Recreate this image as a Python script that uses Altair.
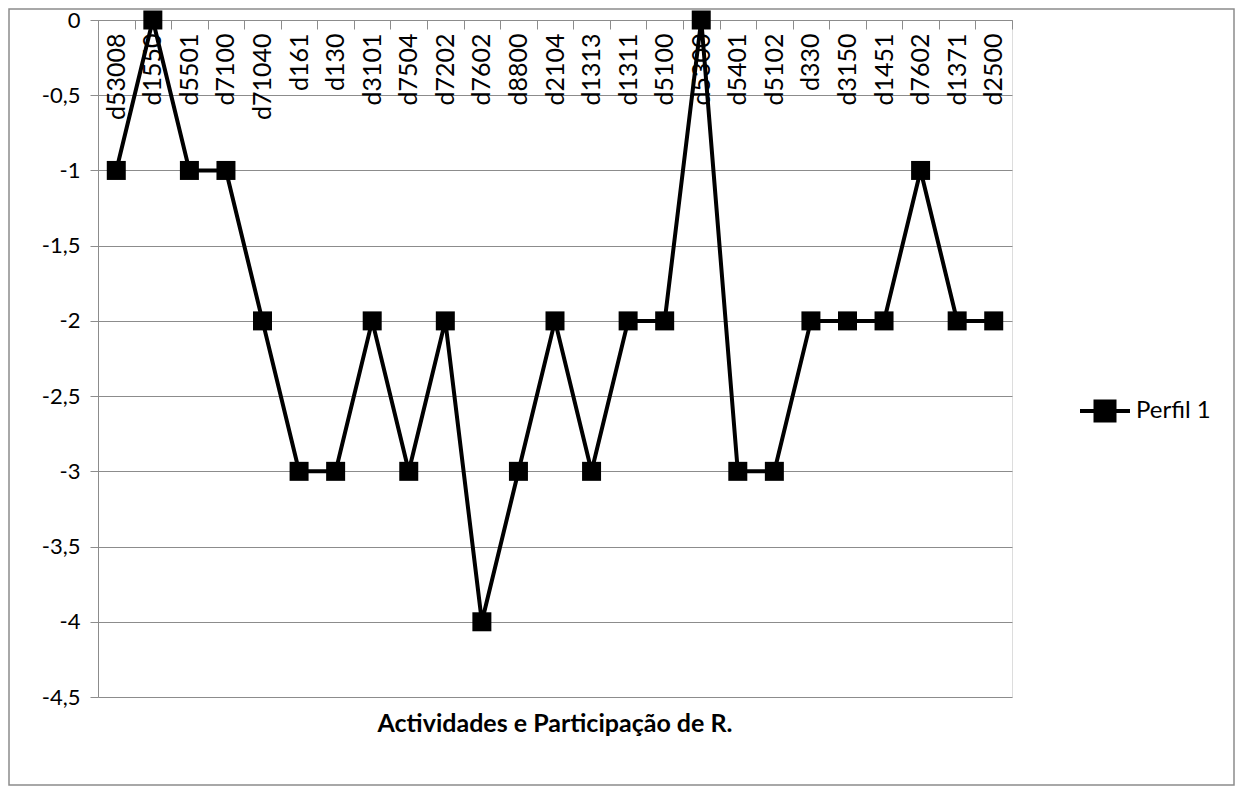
import altair as alt
import pandas as pd

labels = ["d53008", "d1550", "d5501", "d7100", "d71040", "d161", "d130", "d3101",
          "d7504", "d7202", "d7602", "d8800", "d2104", "d1313", "d1311", "d5100",
          "d5300", "d5401", "d5102", "d330", "d3150", "d1451", "d7602", "d1371", "d2500"]
values = [-1, 0, -1, -1, -2, -3, -3, -2, -3, -2, -4, -3, -2, -3, -2, -2,
          0, -3, -3, -2, -2, -2, -1, -2, -2]
y_ticks = [0, -0.5, -1, -1.5, -2, -2.5, -3, -3.5, -4, -4.5]
series_name = "Perfil 1"
x_title = "Actividades e Participação de R."

df = pd.DataFrame({
    "idx": list(range(len(labels))),
    "label": labels,
    "value": values,
    "series": [series_name] * len(labels),
})

W, H = 914, 677
TOP = 12
FONT = "Lato"
GREY = "#8c8c8c"

label_expr = "[" + ",".join("'%s'" % l for l in labels) + "][datum.value]"

x_enc = alt.X(
    "idx:O",
    scale=alt.Scale(paddingInner=0, paddingOuter=0),
    axis=alt.Axis(
        orient="bottom", offset=-H, labelAngle=-90, labelExpr=label_expr,
        tickBand="extent", title=None, domainColor=GREY, tickColor=GREY,
        tickSize=9, labelFontSize=25, labelPadding=4, labelOverlap=False,
        grid=False, labelColor="black", labelFont=FONT,
    ),
)
y_enc = alt.Y(
    "value:Q",
    scale=alt.Scale(domain=[-4.5, 0], nice=False, zero=False),
    axis=alt.Axis(
        values=y_ticks, labelExpr="replace(toString(datum.value), '.', ',')",
        grid=True, gridColor=GREY, gridOpacity=1, domainColor=GREY, tickColor=GREY,
        tickSize=8, labelFontSize=22, labelPadding=10, title=None,
        labelColor="black", labelFont=FONT,
    ),
)
color_enc = alt.Color(
    "series:N",
    scale=alt.Scale(range=["black"]),
    legend=alt.Legend(
        orient="none", legendX=980, legendY=364, title=None,
        symbolType="M-1,0H1M-0.38,-0.38H0.38V0.38H-0.38Z", symbolSize=2500,
        symbolStrokeWidth=4, symbolFillColor="black", symbolStrokeColor="black",
        labelFontSize=24, labelFont=FONT, labelColor="black", labelOffset=4,
    ),
)

base = alt.Chart(df)
line = base.mark_line(strokeWidth=4).encode(x=x_enc, y=y_enc, color=color_enc)
pts = base.mark_point(shape="square", filled=True, size=361, opacity=1).encode(
    x=x_enc, y=y_enc, color=color_enc)

one = pd.DataFrame({"a": [0]})
title_txt = alt.Chart(one).mark_text(
    text=x_title, font=FONT, fontSize=25, fontWeight="bold", color="black",
    align="center", baseline="middle",
).encode(x=alt.value(W / 2), y=alt.value(H + 27))

border = alt.Chart(one).mark_rect(fill=None, stroke=GREY, strokeWidth=1.5).encode(
    x=alt.value(-89), y=alt.value(-TOP + 1), x2=alt.value(W + 222), y2=alt.value(H + 88))

chart = alt.layer(border, line, pts, title_txt).properties(
    width=W, height=H,
    autosize=alt.AutoSizeParams(type="none"),
    padding={"left": 90, "top": TOP, "right": 224, "bottom": 89},
).configure_view(stroke=None).configure(font=FONT)

chart.save("out.html", embed_options={"renderer": "svg", "actions": False})
